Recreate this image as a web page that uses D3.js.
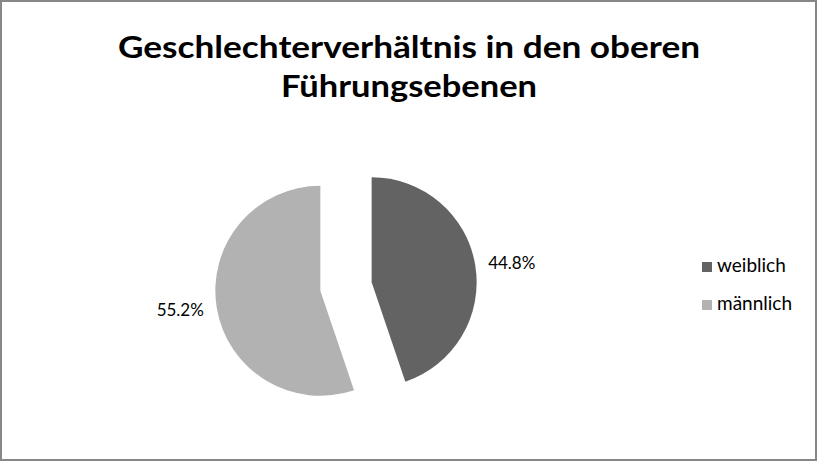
<!DOCTYPE html>
<html>
<head>
<meta charset="utf-8">
<script src="https://cdn.jsdelivr.net/npm/d3@7"></script>
<style>
  html, body { margin: 0; padding: 0; background: #fff; }
  svg { display: block; }
</style>
</head>
<body>
<svg id="chart" width="818" height="461"></svg>
<script>
// ---- data ----
const titleLines = ["Geschlechterverhältnis in den oberen", "Führungsebenen"];
const categories = ["weiblich", "männlich"];
const values = [44.8, 55.2];
const valueLabels = ["44.8%", "55.2%"];
const colors = ["#636363", "#b2b2b2"];

// ---- layout ----
const W = 818, H = 461;
const svg = d3.select("#chart");
const font = "Lato, 'Open Sans', 'Liberation Sans', sans-serif";

svg.append("rect")
  .attr("x", 1).attr("y", 1)
  .attr("width", W - 3).attr("height", H - 2)
  .attr("fill", "#fff")
  .attr("stroke", "#878787").attr("stroke-width", 2);

// title
const titleWidths = [582, 256];
const titleY = [58, 97];
svg.append("g").selectAll("text")
  .data(titleLines)
  .join("text")
  .attr("x", 409)
  .attr("y", (d, i) => titleY[i])
  .attr("text-anchor", "middle")
  .attr("font-family", font)
  .attr("font-weight", "bold")
  .attr("font-size", 31)
  .attr("fill", "#000")
  .attr("textLength", (d, i) => titleWidths[i])
  .attr("lengthAdjust", "spacingAndGlyphs")
  .text(d => d);

// pie
const cx = 346, cy = 286.5, r = 105, explode = 26, labelDist = r + 37;
const pie = d3.pie().sort(null).value(d => d.value);
const arcs = pie(categories.map((c, i) => ({ cat: c, value: values[i], label: valueLabels[i], color: colors[i] })));
const arc = d3.arc().innerRadius(0).outerRadius(r);

const g = svg.append("g").attr("transform", `translate(${cx},${cy})`);
const mid = a => (a.startAngle + a.endAngle) / 2;

g.selectAll("path")
  .data(arcs)
  .join("path")
  .attr("d", arc)
  .attr("fill", d => d.data.color)
  .attr("transform", d => `translate(${explode * Math.sin(mid(d))},${-explode * Math.cos(mid(d))})`);

g.selectAll("text.lbl")
  .data(arcs)
  .join("text")
  .attr("class", "lbl")
  .attr("x", d => (explode + labelDist) * Math.sin(mid(d)))
  .attr("y", d => -(explode + labelDist) * Math.cos(mid(d)) * 0.87)
  .attr("dy", "0.35em")
  .attr("text-anchor", "middle")
  .attr("font-family", font)
  .attr("font-size", 17)
  .attr("fill", "#000")
  .text(d => d.data.label);

// legend
const legend = svg.append("g").attr("transform", "translate(702,262)");
const item = legend.selectAll("g")
  .data(categories)
  .join("g")
  .attr("transform", (d, i) => `translate(0,${i * 38})`);
item.append("rect")
  .attr("width", 10).attr("height", 10)
  .attr("fill", (d, i) => colors[i]);
item.append("text")
  .attr("x", 15).attr("y", 10)
  .attr("font-family", font)
  .attr("font-size", 19)
  .attr("fill", "#000")
  .text(d => d);
</script>
</body>
</html>
